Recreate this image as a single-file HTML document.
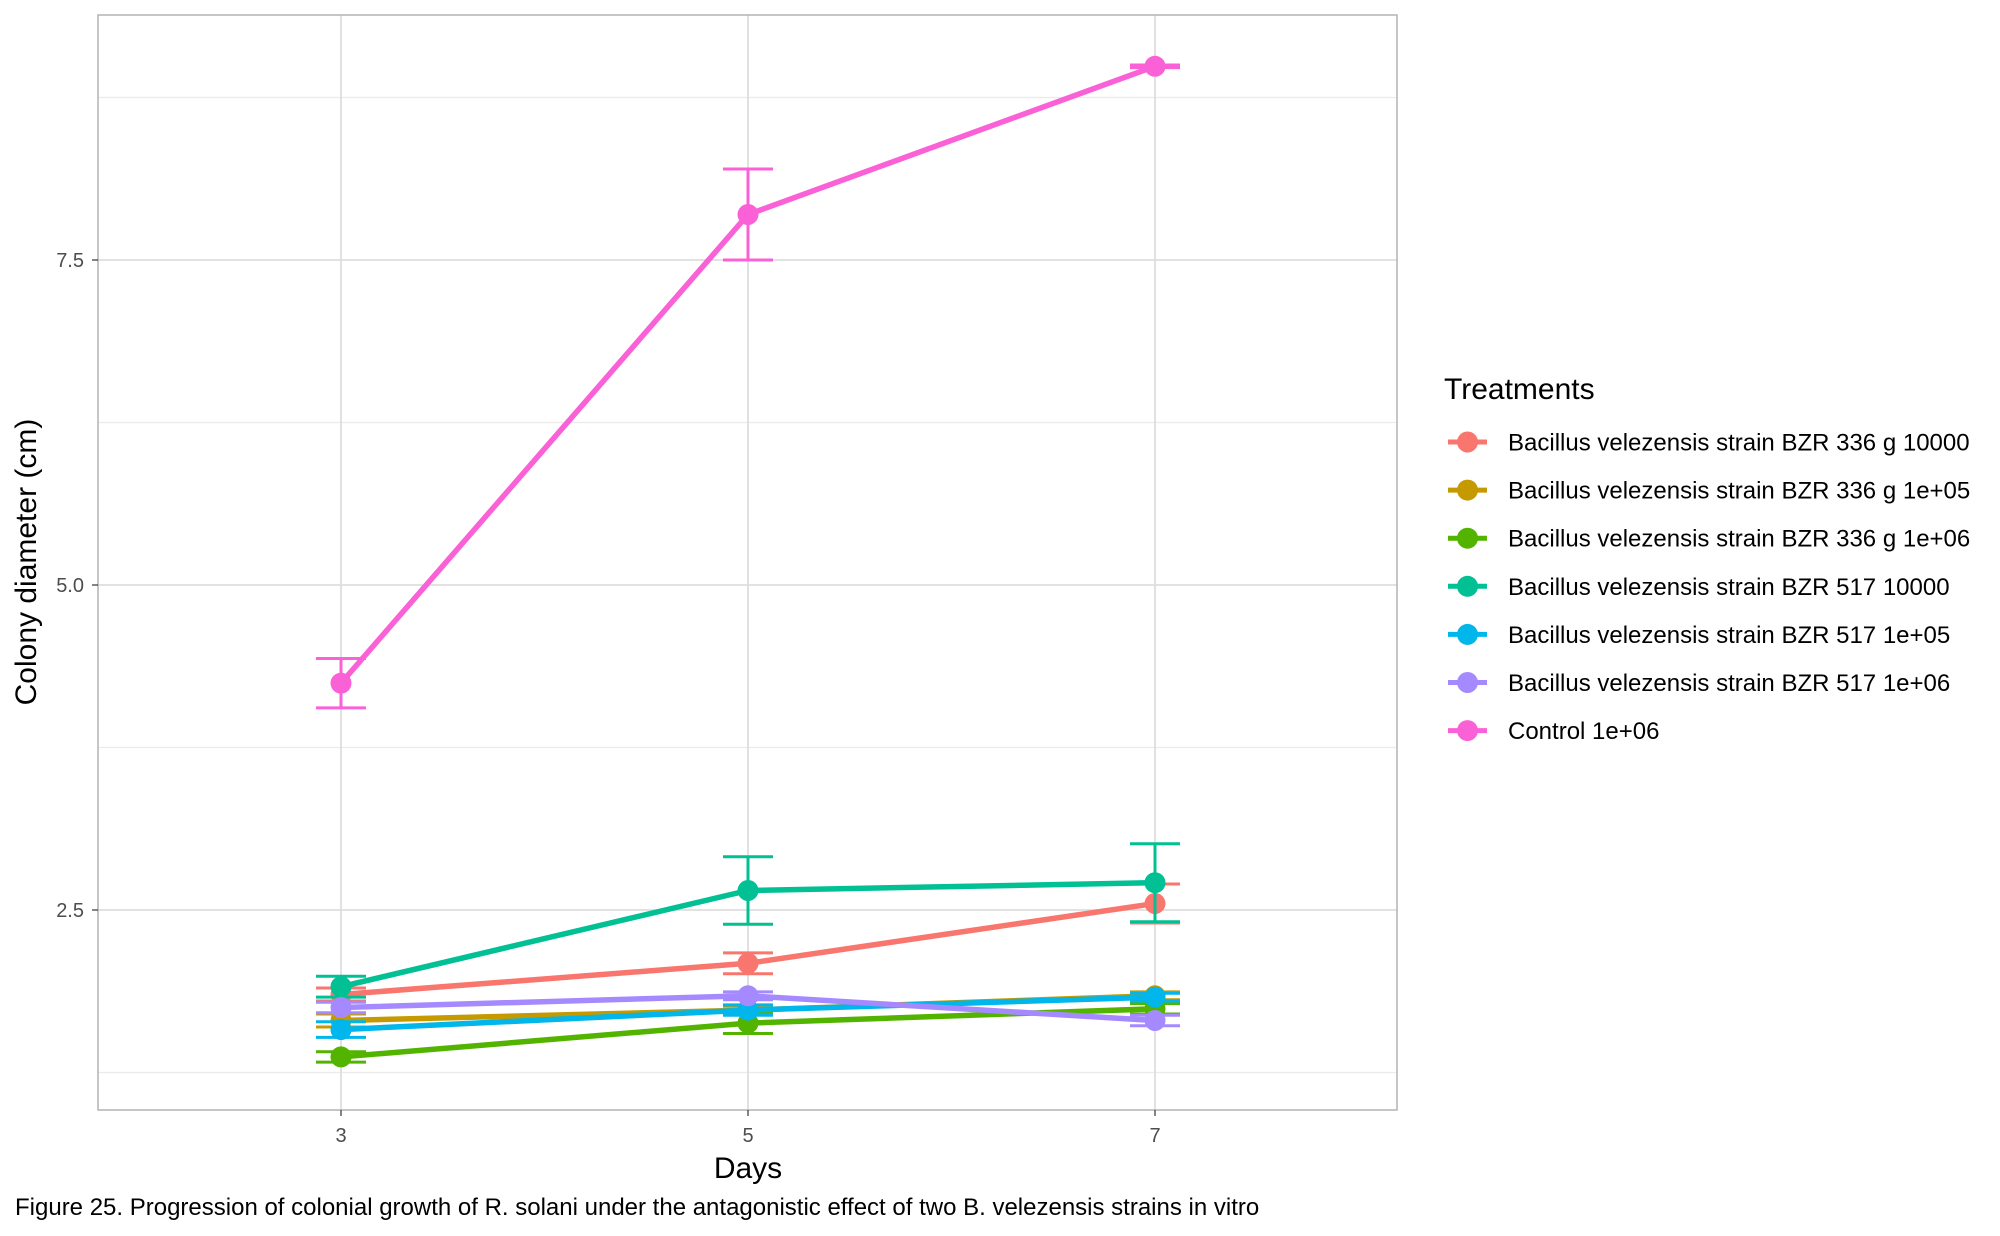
<!DOCTYPE html>
<html><head><meta charset="utf-8"><style>
html,body{margin:0;padding:0;background:#fff;}
svg{display:block;font-family:"Liberation Sans",Arial,sans-serif;}
</style></head><body>
<svg id="chart" width="2000" height="1236" viewBox="0 0 2000 1236">
<g id="grid"></g>
<rect x="98" y="15" width="1299" height="1095" fill="none" stroke="#b3b3b3" stroke-width="1.5"/>
<g id="series"></g>
<g id="axes"></g>
<text x="36" y="562" transform="rotate(-90 36 562)" text-anchor="middle" font-size="30" fill="#000">Colony diameter (cm)</text>
<text x="748" y="1178" text-anchor="middle" font-size="30" fill="#000">Days</text>
<text x="1444" y="399" font-size="30" fill="#000">Treatments</text>
<g id="legend"></g>
<text x="15" y="1215" font-size="24" fill="#000">Figure 25. Progression of colonial growth of R. solani under the antagonistic effect of two B. velezensis strains in vitro</text>
</svg>
<script>
const days = [3, 5, 7];
const names = ["Bacillus velezensis strain BZR 336 g 10000","Bacillus velezensis strain BZR 336 g 1e+05","Bacillus velezensis strain BZR 336 g 1e+06","Bacillus velezensis strain BZR 517 10000","Bacillus velezensis strain BZR 517 1e+05","Bacillus velezensis strain BZR 517 1e+06","Control 1e+06"];
const colors = ["#F8766D","#C49A00","#53B400","#00C094","#00B6EB","#A58AFF","#FB61D7"];
const s336_10000 = [1.85, 2.09, 2.55];
const s336_1e05 = [1.65, 1.73, 1.84];
const s336_1e06 = [1.37, 1.63, 1.74];
const s517_10000 = [1.91, 2.65, 2.71];
const s517_1e05 = [1.58, 1.73, 1.83];
const s517_1e06 = [1.75, 1.84, 1.65];
const control = [4.245, 7.85, 8.99];
const err336_10000 = [0.05, 0.08, 0.15];
const err336_1e05 = [0.05, 0.03, 0.03];
const err336_1e06 = [0.04, 0.08, 0.04];
const err517_10000 = [0.08, 0.26, 0.30];
const err517_1e05 = [0.06, 0.04, 0.03];
const err517_1e06 = [0.04, 0.03, 0.04];
const errControl = [0.19, 0.35, 0.01];
const yTicks = [2.5, 5.0, 7.5];
const yTickLabels = ["2.5", "5.0", "7.5"];
const yMinor = [1.25, 3.75, 6.25, 8.75];
const xTickLabels = ["3", "5", "7"];

const series = [s336_10000, s336_1e05, s336_1e06, s517_10000, s517_1e05, s517_1e06, control];
const errs = [err336_10000, err336_1e05, err336_1e06, err517_10000, err517_1e05, err517_1e06, errControl];
const sx = d => 341 + (d - 3) * 203.5;
const sy = v => 260 - (v - 7.5) * 130;
const NS = "http://www.w3.org/2000/svg";
function mk(tag, attrs, parent) { const e = document.createElementNS(NS, tag); for (const k in attrs) e.setAttribute(k, attrs[k]); parent.appendChild(e); return e; }
const grid = document.getElementById('grid'), sg = document.getElementById('series'), ax = document.getElementById('axes'), lg = document.getElementById('legend');
yMinor.forEach(v => { const l = mk('line', {x1: 98, x2: 1397, y1: sy(v), y2: sy(v), stroke: '#ebebeb', 'stroke-width': 1.2}, grid);
  
   });
yTicks.forEach((v, i) => {
  const l = mk('line', {x1: 98, x2: 1397, y1: sy(v), y2: sy(v), stroke: '#dedede', 'stroke-width': 1.8}, grid);
  
  
  const t = mk('text', {x: 84, y: sy(v) + 7, 'text-anchor': 'end', 'font-size': 20, fill: '#4d4d4d'}, ax);
  t.textContent = yTickLabels[i];
  
  
  const tk = mk('line', {x1: 92, x2: 98, y1: sy(v), y2: sy(v), stroke: '#333', 'stroke-width': 1.2}, ax);
  
  
});
days.forEach((d, i) => {
  const l = mk('line', {x1: sx(d), x2: sx(d), y1: 15, y2: 1110, stroke: '#dedede', 'stroke-width': 1.8}, grid);
  
  
  const t = mk('text', {x: sx(d), y: 1142, 'text-anchor': 'middle', 'font-size': 20, fill: '#4d4d4d'}, ax);
  t.textContent = xTickLabels[i];
  
  
  const tk = mk('line', {x1: sx(d), x2: sx(d), y1: 1110, y2: 1116, stroke: '#333', 'stroke-width': 1.2}, ax);
  
  
});
series.forEach((vals, si) => {
  const g = mk('g', {}, sg);
  
  
  const c = colors[si];
  vals.forEach((v, i) => {
    const x = sx(days[i]), e = errs[si][i];
    const eb = mk('path', {d: `M${x-25},${sy(v+e)}H${x+25}M${x},${sy(v+e)}V${sy(v-e)}M${x-25},${sy(v-e)}H${x+25}`, stroke: c, 'stroke-width': 3, fill: 'none'}, g);
    
    
  });
  const pl = mk('polyline', {points: vals.map((v, i) => sx(days[i]) + ',' + sy(v)).join(' '), stroke: c, 'stroke-width': 5.5, fill: 'none'}, g);
  
  
  vals.forEach((v, i) => {
    const p = mk('circle', {cx: sx(days[i]), cy: sy(v), r: 10.5, fill: c}, g);
    
    
  });
  const y = 442 + si * 48.1;
  const kl = mk('line', {x1: 1448, x2: 1487, y1: y, y2: y, stroke: c, 'stroke-width': 5}, lg);
  
  
  const kc = mk('circle', {cx: 1467.5, cy: y, r: 10.5, fill: c}, lg);
  
  
  const t = mk('text', {x: 1508, y: y + 8.5, 'font-size': 24, fill: '#000'}, lg);
  t.textContent = names[si];
  
  
});
</script>
</body></html>
